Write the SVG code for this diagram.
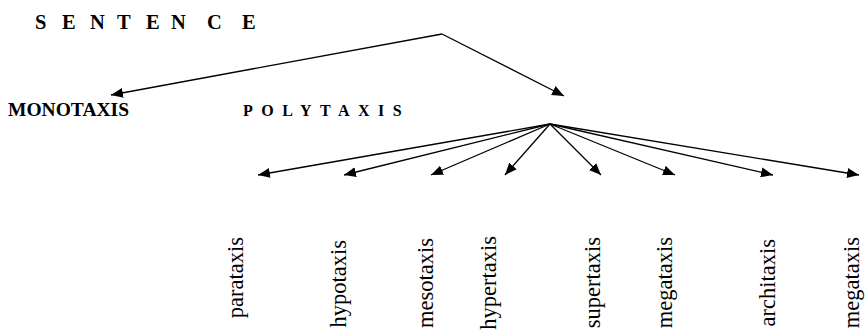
<svg xmlns="http://www.w3.org/2000/svg" width="867" height="334" viewBox="0 0 867 334">
<style>
.t{font-family:"Liberation Serif","Times New Roman",serif;fill:#000}
.b{font-weight:bold}
.v{font-size:22.5px}
.c line{stroke:#000;stroke-width:1.3;marker-end:url(#ah)}
</style>
<defs>
<marker id="ah" markerUnits="userSpaceOnUse" markerWidth="13" markerHeight="11" refX="12" refY="5.5" orient="auto">
<path d="M0,0.5 L12,5.5 L0,10.5 z" fill="#000"/>
</marker>
</defs>
<rect width="867" height="334" fill="#fff"/>
<g id="sentence"><text class="t b" x="35 62 90 117 146 171 207 242" y="29" font-size="20.5">SENTENCE</text></g>
<g id="monotaxis"><text class="t b" x="8" y="116" font-size="19.5">MONOTAXIS</text></g>
<g id="polytaxis"><text class="t b" x="243" y="116" font-size="16" letter-spacing="8.5">POLYTAXIS</text></g>
<g class="c" id="connectors">
<line x1="442" y1="34" x2="111" y2="95"/>
<line x1="442" y1="34" x2="564" y2="96"/>
<line x1="550" y1="124" x2="258" y2="175"/>
<line x1="550" y1="124" x2="344" y2="175"/>
<line x1="550" y1="124" x2="431" y2="175"/>
<line x1="550" y1="124" x2="505" y2="175"/>
<line x1="550" y1="124" x2="601" y2="175"/>
<line x1="550" y1="124" x2="675" y2="175"/>
<line x1="550" y1="124" x2="773" y2="175"/>
<line x1="550" y1="124" x2="859" y2="175"/>
</g>
<g id="parataxis"><text class="t v" text-anchor="end" transform="translate(243,237) rotate(-90)">parataxis</text></g>
<g id="hypotaxis"><text class="t v" text-anchor="end" transform="translate(346,240) rotate(-90)">hypotaxis</text></g>
<g id="mesotaxis"><text class="t v" text-anchor="end" transform="translate(433,238) rotate(-90)">mesotaxis</text></g>
<g id="hypertaxis"><text class="t v" text-anchor="end" transform="translate(496,236) rotate(-90)">hypertaxis</text></g>
<g id="supertaxis"><text class="t v" text-anchor="end" transform="translate(600,237) rotate(-90)">supertaxis</text></g>
<g id="megataxis1"><text class="t v" text-anchor="end" transform="translate(672,237) rotate(-90)">megataxis</text></g>
<g id="architaxis"><text class="t v" text-anchor="end" transform="translate(775,239) rotate(-90)">architaxis</text></g>
<g id="megataxis2"><text class="t v" text-anchor="end" transform="translate(859,237) rotate(-90)">megataxis</text></g>
</svg>
